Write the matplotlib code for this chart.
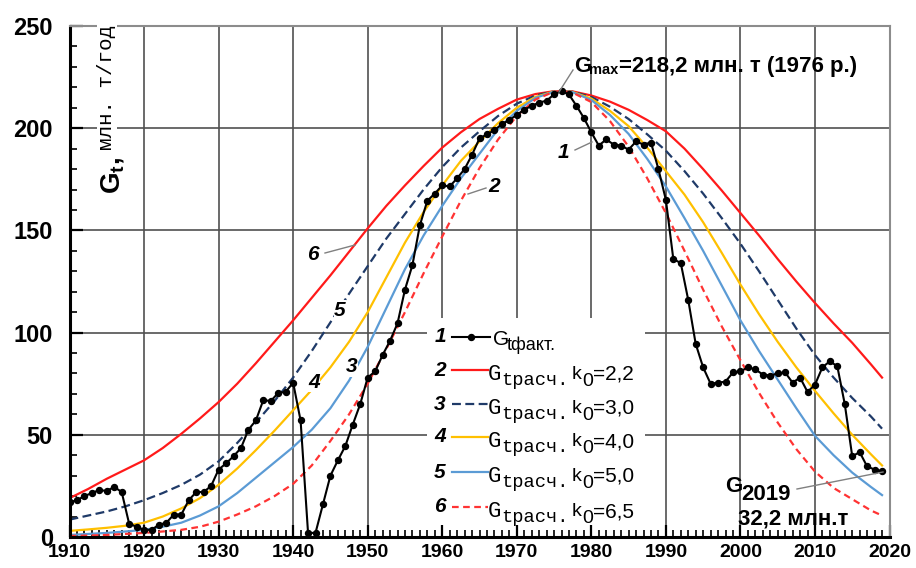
import matplotlib
matplotlib.use("Agg")
import matplotlib.pyplot as plt
from matplotlib.lines import Line2D
from matplotlib.patches import Rectangle
from matplotlib.ticker import MultipleLocator

plt.rcParams['font.family'] = ['Liberation Sans', 'DejaVu Sans']
plt.rcParams['mathtext.fontset'] = 'custom'
plt.rcParams['mathtext.rm'] = 'Liberation Sans'
plt.rcParams['mathtext.bf'] = 'Liberation Sans:bold'

# actual output, 1910..2019
years_fact = list(range(1910, 2020))
g_fact = [17, 18, 20, 21.5, 23, 22.5, 24.5, 22, 6.5, 5,
          3.5, 3.5, 6, 7, 11, 11, 18, 22, 22, 25,
          33, 36, 39.5, 43.5, 52.5, 57, 67, 66.5, 70.5, 71,
          75.5, 57, 2, 2, 16, 30, 37.5, 44.5, 55, 65,
          78, 81, 89, 96, 104.5, 121, 133, 152.5, 164.5, 168,
          172, 171.5, 175.5, 180, 187, 195, 197, 199, 202, 204,
          206.5, 209, 211, 212.5, 213.5, 216.5, 218.2, 216.5, 211, 205,
          198, 191.5, 194.5, 192, 191.5, 189.5, 193.5, 192, 193, 180,
          165, 136, 134, 116, 94.5, 83, 75, 75.5, 76, 80.5,
          81, 83, 82, 79.5, 79, 80, 80.5, 75.5, 78, 71,
          74.5, 83, 86, 83.5, 65, 39.5, 41.5, 34.5, 33, 32.2]

# calculated curves
years_calc = [1910, 1912.5, 1915, 1917.5, 1920, 1922.5, 1925, 1927.5, 1930, 1932.5,
              1935, 1937.5, 1940, 1942.5, 1945, 1947.5, 1950, 1952.5, 1955, 1957.5,
              1960, 1962.5, 1965, 1967.5, 1970, 1972.5, 1975, 1976, 1977.5, 1980,
              1982.5, 1985, 1987.5, 1990, 1992.5, 1995, 1997.5, 2000, 2002.5, 2005,
              2007.5, 2010, 2012.5, 2015, 2017.5, 2019]
g_k22 = [19, 23.5, 28.5, 33, 37.5, 43.5, 50.5, 58, 66, 75,
         85, 95.5, 106, 117, 128, 139.5, 151, 162, 172, 181.5,
         190.5, 198, 204.5, 209.5, 214, 216.7, 218.1, 218.2, 218, 216,
         213, 209, 204, 198.5, 190, 180, 169.5, 158.5, 147.5, 136,
         125, 114.5, 104.5, 95, 84.5, 78]
g_k30 = [8.5, 10.5, 12.5, 15, 18, 21.5, 25.5, 30.5, 37, 46,
         56, 66.5, 78, 91, 105, 119, 132.5, 146, 158, 170,
         181, 190.5, 198.5, 206, 212, 216, 218, 218.2, 217.8, 215.3,
         210.5, 204.5, 197, 189, 179, 168, 156, 143.5, 130, 116,
         102, 89, 78, 68, 59, 53]
g_k40 = [3, 3.7, 4.5, 5.5, 7, 10, 14, 19, 25.5, 33.5,
         42.5, 52, 62, 72, 83, 95.5, 110, 127, 144, 159,
         172, 184, 193.5, 202.5, 210, 215.3, 218, 218.2, 217.7, 214.5,
         208.5, 201, 190.5, 179, 167.5, 154, 139, 123.5, 109, 95.5,
         83, 71.5, 60.5, 50, 40.5, 35]
g_k50 = [1, 1.5, 2, 2.7, 3.5, 5, 7, 10.5, 15, 21.5,
         29, 36.5, 44, 52.5, 63, 76.5, 93, 112, 131, 147.5,
         162, 175.5, 187.5, 199.5, 208.5, 214.8, 217.9, 218.2, 217.6, 213.8,
         206.5, 197.2, 185, 171.5, 156, 140, 123, 106, 91, 77,
         63, 49.5, 40, 31.5, 24.5, 20.5]
g_k65 = [0.5, 0.7, 1, 1.5, 2, 2.7, 3.5, 5, 7.5, 11,
         15, 20, 26, 35, 47, 60, 75, 92, 110, 129,
         147, 164.5, 180.5, 194.5, 206, 214, 217.9, 218.2, 217.4, 212.8,
         203.5, 191, 175.5, 158.5, 140, 121, 103, 86.5, 70.5, 56,
         43, 32, 24, 18.5, 13, 10.5]

row_nums = ['2', '3', '4', '5', '6']
k_labels = ['=2,2', '=3,0', '=4,0', '=5,0', '=6,5']

W, H = 916, 568
fig = plt.figure(figsize=(W / 100, H / 100), dpi=100)
L, R, T, B = 69.5, 889.5, 26, 537
ax = fig.add_axes([L / W, 1 - B / H, (R - L) / W, (B - T) / H])


def fx(x):
    return x / W


def fy(y):
    return 1 - y / H


styles = [
    (g_k22, dict(color='#ff1a1a', lw=1.6, ls='-')),
    (g_k30, dict(color='#1f3a68', lw=1.6, ls=(0, (4, 2)))),
    (g_k40, dict(color='#ffc000', lw=1.6, ls='-')),
    (g_k50, dict(color='#5b9bd5', lw=1.6, ls='-')),
    (g_k65, dict(color='#ff3333', lw=1.6, ls=(0, (3, 2)))),
]
for vals, st in styles:
    ax.plot(years_calc, vals, **st)
ax.plot(years_fact, g_fact, color='black', lw=1.5, marker='o', ms=4.3)

ax.set_xlim(1910, 2020)
ax.set_ylim(0, 250)
ax.xaxis.set_major_locator(MultipleLocator(10))
ax.xaxis.set_minor_locator(MultipleLocator(1))
ax.yaxis.set_major_locator(MultipleLocator(50))
ax.yaxis.set_minor_locator(MultipleLocator(10))
ax.grid(which='major', color='#505050', lw=1.2)
ax.set_axisbelow(True)
ax.tick_params(which='major', direction='in', length=9, width=1.6, color='black')
ax.tick_params(which='minor', direction='in', length=5, width=1.2, color='black')
ax.tick_params(axis='y', which='major', pad=12, labelsize=17)
ax.tick_params(axis='x', which='major', pad=5, labelsize=14)
for lab in ax.get_xticklabels() + ax.get_yticklabels():
    lab.set_fontweight('bold')
for s in ['left', 'bottom']:
    ax.spines[s].set_linewidth(2.2)
    ax.spines[s].set_color('black')
for s in ['top', 'right']:
    ax.spines[s].set_linewidth(1.5)
    ax.spines[s].set_color('#8c8c8c')

white = dict(fc='white', ec='none', pad=0.5)

# y axis caption inside the plot
fig.text(fx(113), fy(194), r'$\mathbf{G}_{\mathbf{t}}$,', fontsize=20, fontweight='bold',
         rotation=90, ha='center', va='bottom', bbox=white)
fig.text(fx(107), fy(150), 'млн. т/год', family='Liberation Mono', fontsize=15,
         rotation=90, ha='center', va='bottom', bbox=white)


def leader(x1, y1, x2, y2):
    fig.add_artist(Line2D([fx(x1), fx(x2)], [fy(y1), fy(y2)], color='#808080',
                          lw=1.0, transform=fig.transFigure))


num_kw = dict(fontsize=15, fontweight='bold', style='italic', ha='center', va='center')

# curve labels on the plot
fig.text(fx(563), fy(152), '1', bbox=white, **num_kw)
leader(575, 150, 592, 142)
fig.text(fx(494), fy(187), '2', bbox=white, **num_kw)
leader(468, 194, 486, 188)
fig.text(fx(352), fy(367), '3', bbox=white, **num_kw)
fig.text(fx(314), fy(382), '4', bbox=white, **num_kw)
fig.text(fx(340), fy(310), '5', bbox=white, **num_kw)
fig.text(fx(313), fy(255), '6', bbox=white, **num_kw)
leader(325, 253, 355, 245)

# Gmax note
leader(559, 92, 573, 70)
fig.text(fx(574), fy(72), 'G', fontsize=16, fontweight='bold', va='baseline')
fig.text(fx(589), fy(74), 'max', fontsize=10.5, fontweight='bold', va='baseline')
fig.text(fx(619), fy(72), '=218,2 млн. т (1976 р.)', fontsize=16, fontweight='bold',
         va='baseline')

# G2019 note
leader(797, 489, 883, 472)
fig.text(fx(725), fy(492), 'G', fontsize=16, fontweight='bold', va='baseline')
fig.text(fx(741), fy(500), '2019', fontsize=16, fontweight='bold', va='baseline')
fig.text(fx(738), fy(525), '32,2 млн.т', fontsize=16, fontweight='bold', va='baseline')

# hand-made legend
fig.add_artist(Rectangle((fx(427), fy(525)), (645 - 427) / W, (525 - 318) / H,
                         transform=fig.transFigure, fc='white', ec='none', zorder=1))
row_y = [337, 370, 404, 437, 472, 507]

y0 = row_y[0]
fig.text(fx(440), fy(y0), '1', **num_kw)
fig.add_artist(Line2D([fx(452), fx(490)], [fy(y0), fy(y0)], color='black', lw=1.5,
                      transform=fig.transFigure))
fig.add_artist(Line2D([fx(471)], [fy(y0)], color='black', marker='o', ms=4.3,
                      transform=fig.transFigure))
fig.text(fx(493), fy(y0 + 8), 'G', fontsize=15, va='baseline')
fig.text(fx(507), fy(y0 + 13), 'tфакт.', fontsize=13, va='baseline')

for (vals, st), num, kl, yy in zip(styles, row_nums, k_labels, row_y[1:]):
    fig.text(fx(440), fy(yy), num, **num_kw)
    fig.add_artist(Line2D([fx(452), fx(488)], [fy(yy), fy(yy)], color=st['color'],
                          lw=st['lw'], ls=st['ls'], transform=fig.transFigure))
    fig.text(fx(488), fy(yy + 10), 'G', family='Liberation Mono', fontsize=16,
             va='baseline')
    fig.text(fx(501), fy(yy + 15), 'tрасч.', family='Liberation Mono', fontsize=13.5,
             va='baseline')
    fig.text(fx(572), fy(yy + 9), 'k', fontsize=14, va='baseline')
    fig.text(fx(582), fy(yy + 16), '0', fontsize=14, va='baseline')
    fig.text(fx(593), fy(yy + 10), kl, fontsize=15, va='baseline')

fig.savefig('out.png', dpi=100)
